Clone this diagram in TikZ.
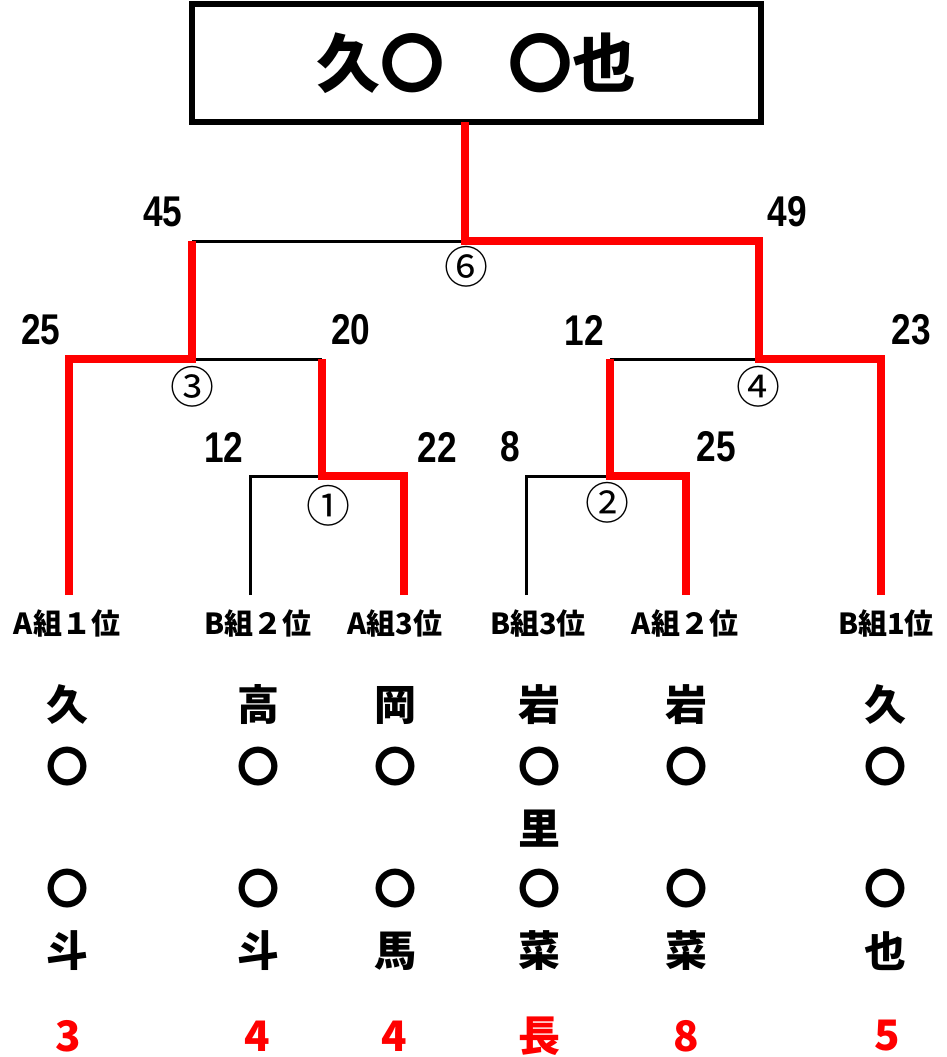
\documentclass[tikz,border=0pt]{standalone}
\usepackage{graphicx}
\usepackage{fontspec}
\setmainfont{Noto Sans CJK JP}
\newfontfamily\numf{Liberation Sans}
\newcommand\narrowdig[1]{\scalebox{0.82}[1]{#1}}
\begin{document}
\begin{tikzpicture}[x=1pt,y=-1pt,
  redl/.style={draw=red, line width=8pt, line join=miter},
  blkl/.style={draw=black, line width=3pt, line join=miter},
  score/.style={inner sep=0pt, font=\numf\bfseries\fontsize{43}{43}\selectfont},
  rnd/.style={inner sep=0pt, font=\fontsize{44}{44}\selectfont},
  lab/.style={inner sep=0pt, font=\bfseries\fontsize{29}{29}\selectfont},
  nm/.style={inner sep=0pt, font=\bfseries\fontsize{42}{42}\selectfont},
  rk/.style={inner sep=0pt, text=red, font=\bfseries\fontsize{42}{42}\selectfont}]
\useasboundingbox (0,0) rectangle (947,1057);
% title box
\node[draw=black, line width=6pt, minimum width=569pt, minimum height=117.5pt, inner sep=0pt,
      font=\bfseries\fontsize{64}{64}\selectfont] (title) at (476.5,63.25) {久〇　〇也};
% bottom labels
\node[lab] (l1) at (67,623) {A組１位};
\node[lab] (l2) at (258,623) {B組２位};
\node[lab] (l3) at (395,623) {A組3位};
\node[lab] (l4) at (538,623) {B組3位};
\node[lab] (l5) at (685,623) {A組２位};
\node[lab] (l6) at (886,623) {B組1位};
% line ends above labels
\coordinate (e1) at (69,595);
\coordinate (e2) at (250,595);
\coordinate (e3) at (404,595);
\coordinate (e4) at (526,595);
\coordinate (e5) at (686,595);
\coordinate (e6) at (881,595);
% junctions
\coordinate (t0) at (465,122);
\coordinate (j6) at (465,241);
\coordinate (a6) at (192,241);
\coordinate (b6) at (759,241);
\coordinate (j3) at (192,359);
\coordinate (a3) at (69,359);
\coordinate (b3) at (322,359);
\coordinate (j4) at (759,359);
\coordinate (a4) at (610,359);
\coordinate (b4) at (881,359);
\coordinate (j1) at (322,476);
\coordinate (a1) at (250,476);
\coordinate (b1) at (404,476);
\coordinate (j2) at (610,476);
\coordinate (a2) at (526,476);
\coordinate (b2) at (686,476);
% black (losing) lines
\draw[blkl] (a6) -- (j6);
\draw[blkl] (j3) -- (b3);
\draw[blkl] (a4) -- (j4);
\draw[blkl] (e2) -- (a1) -- (j1);
\draw[blkl] (e4) -- (a2) -- (j2);
% red (winning) lines
\draw[redl] (t0) -- (j6) -- (b6) -- (j4) -- (b4) -- (e6);
\draw[redl] (e1) -- (a3) -- (j3) -- (a6);
\draw[redl] (e3) -- (b1) -- (j1) -- (b3);
\draw[redl] (e5) -- (b2) -- (j2) -- (a4);
% scores
\node[score] (s45) at (163,212) {\narrowdig{45}};
\node[score] (s49) at (787,212) {\narrowdig{49}};
\node[score] (s25a) at (41,330) {\narrowdig{25}};
\node[score] (s20) at (351,330) {\narrowdig{20}};
\node[score] (s12a) at (584,330) {\narrowdig{12}};
\node[score] (s23) at (911,330) {\narrowdig{23}};
\node[score] (s12b) at (224,447) {\narrowdig{12}};
\node[score] (s22) at (437,447) {\narrowdig{22}};
\node[score] (s8) at (510,447) {\narrowdig{8}};
\node[score] (s25b) at (716,447) {\narrowdig{25}};
% match numbers
\node[rnd] (m6) at (466,267) {⑥};
\node[rnd] (m3) at (192,387) {③};
\node[rnd] (m4) at (758,387) {④};
\node[rnd] (m1) at (328,506) {①};
\node[rnd] (m2) at (607,503) {②};
% names
\node[nm] (n1a) at (67,705) {久};
\node[nm] (n1b) at (67,767) {〇};
\node[nm] (n1d) at (67,889) {〇};
\node[nm] (n1e) at (67,951) {斗};
\node[nm] (n2a) at (258,705) {高};
\node[nm] (n2b) at (258,767) {〇};
\node[nm] (n2d) at (258,889) {〇};
\node[nm] (n2e) at (258,951) {斗};
\node[nm] (n3a) at (395,705) {岡};
\node[nm] (n3b) at (395,767) {〇};
\node[nm] (n3d) at (395,889) {〇};
\node[nm] (n3e) at (395,951) {馬};
\node[nm] (n4a) at (539,705) {岩};
\node[nm] (n4b) at (539,767) {〇};
\node[nm] (n4c) at (539,829) {里};
\node[nm] (n4d) at (539,889) {〇};
\node[nm] (n4e) at (539,951) {菜};
\node[nm] (n5a) at (686,705) {岩};
\node[nm] (n5b) at (686,767) {〇};
\node[nm] (n5d) at (686,889) {〇};
\node[nm] (n5e) at (686,951) {菜};
\node[nm] (n6a) at (885,705) {久};
\node[nm] (n6b) at (885,767) {〇};
\node[nm] (n6d) at (885,889) {〇};
\node[nm] (n6e) at (885,951) {也};
% ranks
\node[rk] (r1) at (68,1036) {3};
\node[rk] (r2) at (257,1036) {4};
\node[rk] (r3) at (394,1036) {4};
\node[rk] (r4) at (539,1036) {長};
\node[rk] (r5) at (686,1036) {8};
\node[rk] (r6) at (887,1036) {5};
\end{tikzpicture}
\end{document}
